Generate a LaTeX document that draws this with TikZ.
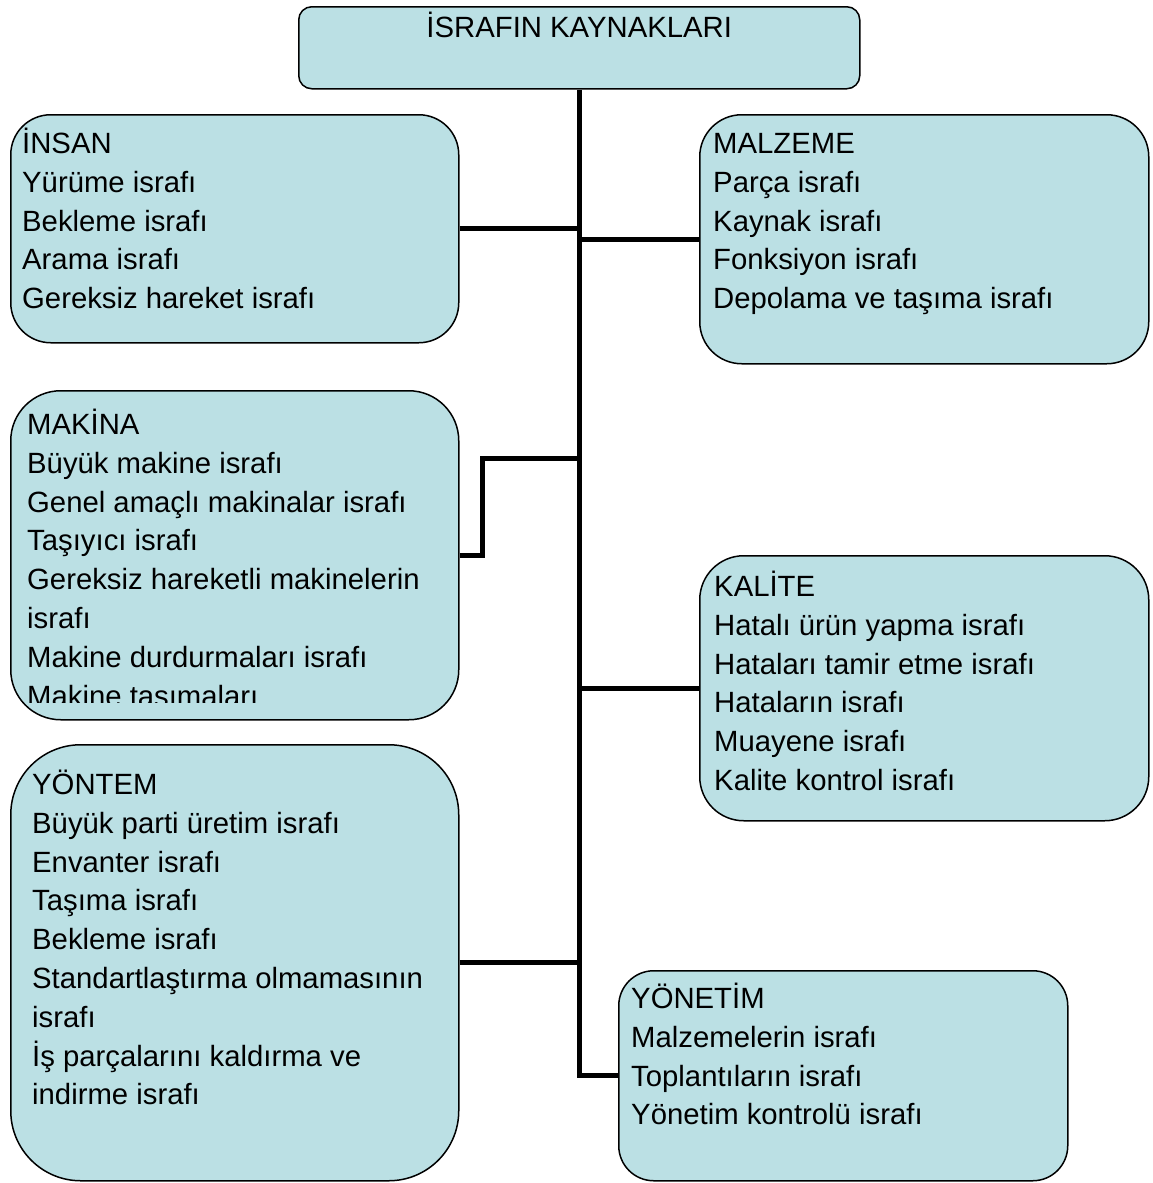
\documentclass[tikz,border=0pt]{standalone}
\usepackage{fontspec}
\setmainfont{Liberation Sans}
\usepackage{tikz}
\usetikzlibrary{positioning, calc}
\definecolor{kutumavi}{RGB}{187,224,228}
\newcommand{\ilksatir}{\rule{0pt}{27.2pt}}
\tikzset{
  kutu/.style={draw=black, line width=1.5pt, fill=kutumavi, anchor=north west, inner sep=0pt},
  liste/.style={anchor=north west, inner sep=0pt, align=left},
  dal/.style={line width=5pt}
}

\begin{document}
\begin{tikzpicture}[x=1pt, y=-1pt, font=\fontsize{29.3}{38.8}\selectfont]
        \useasboundingbox (0,0) rectangle (1152,1183);
        % kutular
        \node (baslik) [kutu, minimum width=561pt, minimum height=82pt, rounded corners=13pt] at (298,6) {};
        \node (insan) [kutu, minimum width=448pt, minimum height=228pt, rounded corners=40pt] at (10,114) {};
        \node (malzeme) [kutu, minimum width=449pt, minimum height=249pt, rounded corners=42pt] at (699,114) {};
        \node (makina) [kutu, minimum width=448pt, minimum height=329pt, rounded corners=50pt] at (10,390) {};
        \node (kalite) [kutu, minimum width=449pt, minimum height=265pt, rounded corners=44pt] at (699,555) {};
        \node (yontem) [kutu, minimum width=448pt, minimum height=436pt, rounded corners=70pt] at (10,744) {};
        \node (yonetim) [kutu, minimum width=449pt, minimum height=210pt, rounded corners=35pt] at (618,970) {};
        % yazilar
        \node (baslikyazi) [liste, anchor=north, align=center] at ($(baslik.north)+(0,4)$) {\ilksatir İSRAFIN KAYNAKLARI};
        \node (insanyazi) [liste] at ($(insan.north west)+(12,12)$) {\ilksatir İNSAN\\Yürüme israfı\\Bekleme israfı\\Arama israfı\\Gereksiz hareket israfı};
        \node (malzemeyazi) [liste] at ($(malzeme.north west)+(14,12)$) {\ilksatir MALZEME\\Parça israfı\\Kaynak israfı\\Fonksiyon israfı\\Depolama ve taşıma israfı};
        \begin{scope}
            \clip (10,390) rectangle (458,702);
            \node (makinayazi) [liste] at ($(makina.north west)+(17,17)$) {\ilksatir MAKİNA\\Büyük makine israfı\\Genel amaçlı makinalar israfı\\Taşıyıcı israfı\\Gereksiz hareketli makinelerin\\israfı\\Makine durdurmaları israfı\\Makine taşımaları};
        \end{scope}
        \node (kaliteyazi) [liste] at ($(kalite.north west)+(15,14)$) {\ilksatir KALİTE\\Hatalı ürün yapma israfı\\Hataları tamir etme israfı\\Hataların israfı\\Muayene israfı\\Kalite kontrol israfı};
        \node (yontemyazi) [liste] at ($(yontem.north west)+(22,23)$) {\ilksatir YÖNTEM\\Büyük parti üretim israfı\\Envanter israfı\\Taşıma israfı\\Bekleme israfı\\Standartlaştırma olmamasının\\israfı\\İş parçalarını kaldırma ve\\indirme israfı};
        \node (yonetimyazi) [liste] at ($(yonetim.north west)+(13,11)$) {\ilksatir YÖNETİM\\Malzemelerin israfı\\Toplantıların israfı\\Yönetim kontrolü israfı};
        % baglantilar
        \coordinate (dirsek) at (482,458);
        \draw [dal] (baslik.south) -- (baslik.south |- yonetim.west) -- (yonetim.west);
        \draw [dal] (insan.east) -- (insan.east -| baslik.south);
        \draw [dal] (malzeme.west) -- (malzeme.west -| baslik.south);
        \draw [dal] (makina.east) -| (dirsek) -- (dirsek -| baslik.south);
        \draw [dal] (kalite.west) -- (kalite.west -| baslik.south);
        \draw [dal] (yontem.east) -- (yontem.east -| baslik.south);
    \end{tikzpicture}
\end{document}
